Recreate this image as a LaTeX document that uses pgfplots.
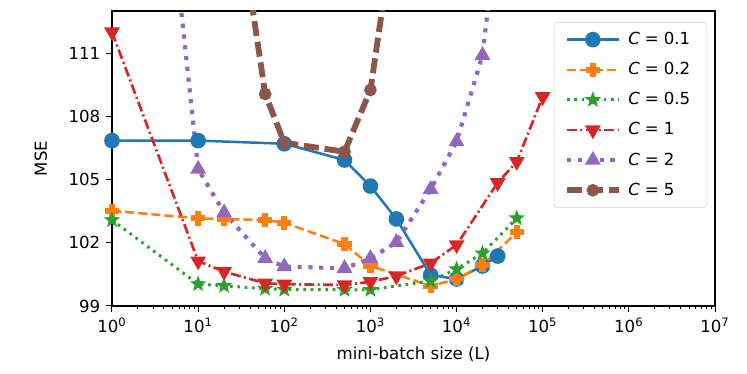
\documentclass[border=0pt]{standalone}
\usepackage{fontspec}
\setmainfont{DejaVu Sans}
\usepackage{pgfplots}
\pgfplotsset{compat=1.18}

\definecolor{c0}{HTML}{1F77B4}
\definecolor{c1}{HTML}{FF7F0E}
\definecolor{c2}{HTML}{2CA02C}
\definecolor{c3}{HTML}{D62728}
\definecolor{c4}{HTML}{9467BD}
\definecolor{c5}{HTML}{8C564B}

% filled plus (matplotlib 'P')
\pgfdeclareplotmark{fplus}{%
  \pgfmathsetlengthmacro\ma{\pgfplotmarksize}%
  \pgfmathsetlengthmacro\mb{0.36*\pgfplotmarksize}%
  \pgfpathmoveto{\pgfpoint{-\mb}{\ma}}%
  \pgfpathlineto{\pgfpoint{\mb}{\ma}}%
  \pgfpathlineto{\pgfpoint{\mb}{\mb}}%
  \pgfpathlineto{\pgfpoint{\ma}{\mb}}%
  \pgfpathlineto{\pgfpoint{\ma}{-\mb}}%
  \pgfpathlineto{\pgfpoint{\mb}{-\mb}}%
  \pgfpathlineto{\pgfpoint{\mb}{-\ma}}%
  \pgfpathlineto{\pgfpoint{-\mb}{-\ma}}%
  \pgfpathlineto{\pgfpoint{-\mb}{-\mb}}%
  \pgfpathlineto{\pgfpoint{-\ma}{-\mb}}%
  \pgfpathlineto{\pgfpoint{-\ma}{\mb}}%
  \pgfpathlineto{\pgfpoint{-\mb}{\mb}}%
  \pgfpathclose
  \pgfusepathqfillstroke
}
% filled five-point star (matplotlib '*')
\pgfdeclareplotmark{fstar}{%
  \pgfpathmoveto{\pgfpointpolar{90}{\pgfplotmarksize}}%
  \pgfpathlineto{\pgfpointpolar{126}{0.42*\pgfplotmarksize}}%
  \pgfpathlineto{\pgfpointpolar{162}{\pgfplotmarksize}}%
  \pgfpathlineto{\pgfpointpolar{198}{0.42*\pgfplotmarksize}}%
  \pgfpathlineto{\pgfpointpolar{234}{\pgfplotmarksize}}%
  \pgfpathlineto{\pgfpointpolar{270}{0.42*\pgfplotmarksize}}%
  \pgfpathlineto{\pgfpointpolar{306}{\pgfplotmarksize}}%
  \pgfpathlineto{\pgfpointpolar{342}{0.42*\pgfplotmarksize}}%
  \pgfpathlineto{\pgfpointpolar{18}{\pgfplotmarksize}}%
  \pgfpathlineto{\pgfpointpolar{54}{0.42*\pgfplotmarksize}}%
  \pgfpathclose
  \pgfusepathqfillstroke
}

\newcommand{\cval}[1]{{\itshape C}\hspace{0.3em}=\hspace{0.3em}#1}

\begin{document}
\begin{tikzpicture}
\begin{axis}[
    name=ax,
    scale only axis,
    width=361.8bp, height=177bp,
    xmode=log,
    xmin=1, xmax=1e7,
    ymin=99, ymax=113,
    ytick={99,102,105,108,111},
    log number format basis/.code 2 args={#1\textsuperscript{\pgfmathprintnumber{#2}}},
    /pgf/number format/assume math mode=true,
    tick align=outside,
    xtick pos=bottom, ytick pos=left,
    major tick length=3.5bp, minor tick length=2bp,
    every tick/.style={black, line width=0.6bp},
    axis line style={line width=0.8bp},
    xlabel={mini-batch size (L)},
    ylabel={MSE},
    ylabel style={yshift=6bp},
    xlabel style={yshift=-1.5bp},
    label style={font=\fontsize{10}{12}\selectfont},
    tick label style={font=\fontsize{10}{12}\selectfont},
    legend image code/.code={%
      \draw[mark repeat=2,mark phase=2] plot coordinates {(0bp,0bp)(15.5bp,0bp)(31bp,0bp)};},
    legend style={at={(0.987,0.963)}, anchor=north east,
      draw=black!18, rounded corners=2bp, fill=white,
      font=\fontsize{10}{12}\selectfont, row sep=5.2bp, inner xsep=6bp, inner ysep=4bp,
      nodes={inner xsep=4bp}},
    legend cell align=left,
]

\addplot[c0, line width=1.5bp, mark=*, mark size=4.2bp, mark options={solid, draw=c0, fill=c0, line width=1bp}] coordinates {
  (1,106.85) (10,106.85) (100,106.7) (500,105.93) (1000,104.69) (2000,103.13)
  (5000,100.47) (10000,100.28) (20000,100.9) (30000,101.37)
};
\addlegendentry{\cval{0.1}}

\addplot[c1, line width=1.5bp, dash pattern=on 5.5bp off 2.4bp, mark=fplus, mark size=3.8bp, mark options={solid, draw=c1, fill=c1, line width=1bp}] coordinates {
  (1,103.52) (10,103.16) (20,103.13) (60,103.08) (100,102.95) (500,101.94)
  (1000,100.91) (5000,99.95) (10000,100.28) (20000,100.94) (50000,102.5)
};
\addlegendentry{\cval{0.2}}

\addplot[c2, line width=1.8bp, dash pattern=on 1.6bp off 2.8bp, mark=fstar, mark size=4bp, mark options={solid, draw=c2, fill=c2, line width=0.8bp}] coordinates {
  (1,103.08) (10,100.04) (20,99.96) (60,99.82) (100,99.78) (500,99.77)
  (1000,99.77) (5000,100.19) (10000,100.75) (20000,101.5) (50000,103.17)
};
\addlegendentry{\cval{0.5}}

\addplot[c3, line width=1.6bp, dash pattern=on 6bp off 2bp on 1.2bp off 2bp, mark=triangle*, mark size=4.5bp, mark options={solid, draw=c3, fill=c3, line width=1bp, rotate=180}] coordinates {
  (1,112.0) (10,101.13) (20,100.63) (60,100.08) (100,100.03) (500,100.0)
  (1000,100.15) (2000,100.42) (5000,101.03) (10000,101.9) (30000,104.85)
  (50000,105.85) (100000,108.93)
};
\addlegendentry{\cval{1}}

\addplot[c4, line width=2.5bp, dash pattern=on 2.5bp off 4bp, mark=triangle*, mark size=4.5bp, mark options={solid, draw=c4, fill=c4, line width=1bp}] coordinates {
  (5,117.0) (10,105.5) (20,103.43) (60,101.26) (100,100.87) (500,100.79)
  (1000,101.26) (2000,102.02) (5000,104.54) (10000,106.8) (20000,110.9) (50000,124.9)
};
\addlegendentry{\cval{2}}

\addplot[c5, line width=3.5bp, dash pattern=on 9bp off 3.5bp, mark=*, mark size=3.3bp, mark options={solid, draw=c5, fill=c5, line width=1bp}] coordinates {
  (20,122.3) (60,109.06) (100,106.75) (500,106.32) (1000,109.25) (2000,117.7)
};
\addlegendentry{\cval{5}}

\end{axis}
\path ([xshift=-67.2bp,yshift=-40.8bp]ax.south west) rectangle ([xshift=19.2bp,yshift=6.6bp]ax.north east);
\end{tikzpicture}
\end{document}
